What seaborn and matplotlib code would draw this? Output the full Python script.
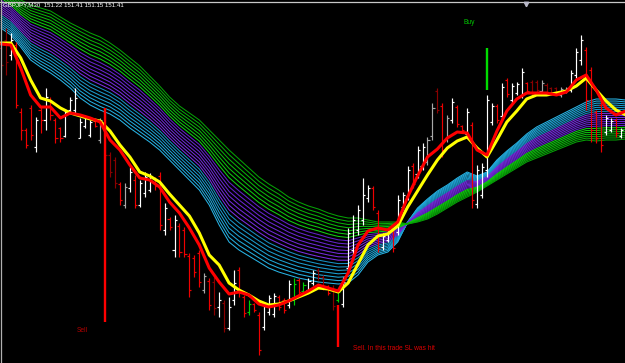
import numpy as np
import pandas as pd
import matplotlib
matplotlib.use("Agg")
import matplotlib.pyplot as plt
import seaborn as sns

# ---------------- data (prices) ----------------
bar_high = [152.55, 152.72, 152.67, 152.58, 151.92, 151.72, 151.95, 151.83, 151.93, 152.12,
            152.03, 151.82, 151.73, 151.90, 152.03, 152.12, 151.82, 151.85, 151.80, 151.80,
            151.82, 151.90, 151.48, 151.43, 151.18, 151.17, 151.33, 151.25, 151.20, 151.28,
            151.27, 151.23, 151.28, 150.97, 150.83, 150.85, 150.77, 150.73, 150.47, 150.45,
            150.50, 150.27, 150.22, 150.23, 150.08, 150.00, 150.03, 150.30, 150.33, 150.05,
            150.00, 149.97, 149.88, 149.97, 150.05, 150.07, 150.05, 150.02, 150.20, 150.22,
            150.22, 150.18, 150.22, 150.30, 150.32, 150.25, 150.15, 150.15, 150.12, 150.23,
            150.72, 150.85, 150.95, 151.22, 151.15, 151.14, 150.90, 150.67, 150.72, 150.72,
            151.05, 151.08, 151.34, 151.37, 151.54, 151.57, 151.63, 151.97, 152.12, 151.97,
            151.85, 152.02, 151.95, 151.75, 151.92, 151.78, 151.35, 151.37, 152.05, 151.97,
            151.96, 152.17, 152.22, 152.17, 152.18, 152.32, 152.18, 152.20, 152.20, 152.20,
            152.17, 152.13, 152.13, 152.13, 152.13, 152.30, 152.52, 152.65, 152.53, 152.33,
            151.90, 152.00, 151.85, 151.82, 151.82, 151.72]
bar_low = [152.30, 152.25, 152.40, 151.92, 151.60, 151.52, 151.60, 151.48, 151.67, 151.70,
           151.80, 151.57, 151.58, 151.63, 151.87, 151.87, 151.62, 151.72, 151.63, 151.73,
           151.57, 151.40, 151.23, 151.12, 150.95, 150.92, 151.08, 150.92, 150.93, 151.03,
           151.08, 151.10, 150.70, 150.65, 150.70, 150.43, 150.43, 150.43, 150.03, 150.23,
           150.13, 150.07, 149.90, 149.85, 149.83, 149.68, 149.70, 149.95, 150.03, 149.83,
           149.85, 149.88, 149.45, 149.70, 149.85, 149.83, 149.90, 149.87, 149.92, 149.95,
           150.05, 150.07, 150.08, 150.15, 150.20, 150.10, 150.05, 149.90, 149.98, 149.93,
           150.27, 150.43, 150.65, 150.75, 150.98, 150.90, 150.48, 150.50, 150.58, 150.48,
           150.65, 150.90, 151.00, 151.12, 151.22, 151.30, 151.35, 151.60, 151.87, 151.43,
           151.58, 151.77, 151.73, 151.69, 151.62, 150.92, 150.92, 151.02, 151.23, 151.75,
           151.77, 151.80, 152.03, 151.97, 152.05, 152.02, 152.07, 152.03, 152.08, 152.07,
           152.05, 152.05, 152.05, 152.03, 152.07, 152.08, 152.22, 152.35, 151.90, 151.58,
           151.57, 151.48, 151.65, 151.68, 151.63, 151.62]
bar_open = [152.52, 152.60, 152.45, 152.55, 151.88, 151.70, 151.92, 151.53, 151.90, 151.80,
            152.00, 151.80, 151.72, 151.64, 151.90, 151.90, 151.62, 151.74, 151.65, 151.79,
            151.60, 151.88, 151.45, 151.40, 151.16, 150.95, 151.12, 151.20, 150.95, 151.07,
            151.10, 151.22, 151.24, 150.70, 150.81, 150.50, 150.74, 150.70, 150.44, 150.42,
            150.47, 150.10, 150.19, 150.18, 149.93, 149.97, 149.72, 150.00, 150.30, 150.03,
            149.88, 149.96, 149.85, 149.73, 149.88, 149.86, 150.03, 150.00, 149.95, 150.00,
            150.20, 150.09, 150.10, 150.17, 150.30, 150.23, 150.14, 150.12, 150.00, 149.96,
            150.32, 150.50, 150.70, 150.80, 151.02, 151.12, 150.87, 150.53, 150.60, 150.69,
            150.68, 150.93, 151.04, 151.34, 151.26, 151.34, 151.38, 151.64, 152.09, 151.94,
            151.61, 151.80, 151.93, 151.74, 151.66, 151.75, 150.96, 151.05, 151.30, 151.78,
            151.94, 151.84, 152.20, 152.00, 152.07, 152.05, 152.17, 152.18, 152.18, 152.09,
            152.15, 152.12, 152.12, 152.05, 152.08, 152.10, 152.25, 152.40, 152.50, 152.30,
            151.88, 151.95, 151.68, 151.70, 151.80, 151.64]
bar_close = [152.35, 152.38, 152.60, 151.95, 151.70, 151.55, 151.65, 151.80, 151.80, 152.03,
             151.85, 151.62, 151.62, 151.88, 152.00, 152.02, 151.78, 151.82, 151.78, 151.74,
             151.80, 151.45, 151.28, 151.17, 151.00, 151.13, 151.28, 150.95, 151.17, 151.23,
             151.24, 151.14, 150.75, 150.92, 150.73, 150.80, 150.48, 150.46, 150.10, 150.28,
             150.18, 150.24, 149.95, 149.92, 150.00, 149.72, 149.93, 150.17, 150.08, 149.87,
             149.96, 149.90, 149.50, 149.94, 150.02, 150.04, 149.93, 149.90, 150.16, 150.16,
             150.08, 150.15, 150.19, 150.27, 150.23, 150.13, 150.07, 149.94, 150.08, 150.18,
             150.67, 150.80, 150.90, 151.05, 151.12, 150.93, 150.52, 150.64, 150.69, 150.52,
             151.00, 151.05, 151.30, 151.16, 151.50, 151.53, 151.60, 151.92, 151.90, 151.50,
             151.82, 151.98, 151.76, 151.70, 151.88, 151.00, 151.30, 151.33, 152.00, 151.94,
             151.80, 152.13, 152.06, 152.14, 152.16, 152.28, 152.09, 152.06, 152.10, 152.17,
             152.07, 152.07, 152.06, 152.11, 152.12, 152.27, 152.48, 152.60, 152.00, 151.70,
             151.62, 151.55, 151.82, 151.79, 151.67, 151.70]
# bar colour class: w white, g grey, r red, d dark red, G green
bar_kind = list("ddwrrrrwrw" "rrrwwwwwwr" "gdddrgwrww" "wrrwrwrrrr" "rgrdwdwwrr"
                "GrrwwwrrwG" "rGwwddrdGw" "wwwwwrrwwr" "wwwrwwggdr" "gwrrwrwwww"
                "rwrwwwrddg" "dddggwwwrr" "rrwwrw")

# moving averages sampled every second bar
ma_red = [152.56, 152.55, 152.32, 152.05, 151.93, 151.93, 151.82, 151.87, 151.85, 151.82,
          151.78, 151.60, 151.50, 151.35, 151.22, 151.20, 151.13, 150.98, 150.87, 150.72,
          150.55, 150.32, 150.18, 150.06, 150.08, 150.05, 149.96, 149.93, 149.95, 149.99,
          150.04, 150.09, 150.15, 150.12, 150.09, 150.27, 150.55, 150.69, 150.72, 150.70,
          150.78, 151.03, 151.24, 151.43, 151.51, 151.62, 151.68, 151.67, 151.50, 151.45,
          151.69, 151.89, 152.01, 152.07, 152.07, 152.07, 152.05, 152.08, 152.20, 152.25,
          152.10, 151.92, 151.85, 151.89]
ma_yellow = [152.57, 152.57, 152.42, 152.20, 152.02, 151.99, 151.92, 151.87, 151.84, 151.81,
             151.79, 151.69, 151.55, 151.43, 151.28, 151.24, 151.18, 151.06, 150.95, 150.84,
             150.67, 150.45, 150.35, 150.17, 150.10, 150.05, 149.99, 149.95, 149.96, 149.99,
             150.03, 150.07, 150.12, 150.11, 150.08, 150.17, 150.36, 150.55, 150.64, 150.66,
             150.74, 150.93, 151.09, 151.25, 151.40, 151.52, 151.59, 151.63, 151.52, 151.43,
             151.60, 151.78, 151.89, 152.01, 152.05, 152.05, 152.07, 152.09, 152.14, 152.22,
             152.10, 151.99, 151.90, 151.85]
# outer lines of the multi-MA ribbon: fastest (blue side) and slowest (green side)
ribbon_fast = [152.72, 152.65, 152.53, 152.40, 152.33, 152.27, 152.20, 152.12, 152.02, 151.95,
               151.90, 151.86, 151.80, 151.72, 151.65, 151.58, 151.50, 151.40, 151.30, 151.20,
               151.10, 150.95, 150.75, 150.58, 150.50, 150.44, 150.38, 150.32, 150.28, 150.25,
               150.22, 150.20, 150.18, 150.17, 150.16, 150.17, 150.25, 150.38, 150.45, 150.48,
               150.58, 150.78, 150.92, 151.01, 151.09, 151.15, 151.22, 151.28, 151.24, 151.28,
               151.40, 151.49, 151.57, 151.66, 151.73, 151.78, 151.83, 151.88, 151.93, 151.98,
               152.01, 152.01, 152.01, 152.00]
ribbon_slow = [153.15, 153.08, 153.00, 152.95, 152.92, 152.89, 152.83, 152.77, 152.72, 152.67,
               152.63, 152.57, 152.50, 152.42, 152.34, 152.24, 152.14, 152.03, 151.94, 151.87,
               151.80, 151.70, 151.60, 151.50, 151.41, 151.32, 151.23, 151.16, 151.10, 151.03,
               150.98, 150.94, 150.91, 150.87, 150.84, 150.82, 150.82, 150.80, 150.78, 150.78,
               150.78, 150.76, 150.78, 150.81, 150.86, 150.92, 150.98, 151.03, 151.08, 151.14,
               151.20, 151.26, 151.32, 151.38, 151.42, 151.46, 151.50, 151.54, 151.58, 151.60,
               151.59, 151.60, 151.60, 151.61]

# signal markers
signal_bar = [21, 68, 98]
signal_top = [151.92, 149.95, 152.52]
signal_bottom = [149.78, 149.53, 152.10]
signal_kind = ["sell", "sell", "buy"]

header_text = "GBPJPY,M30  151.22 151.41 151.15 151.41"
label_buy = "Buy"
label_sell = "Sell"
label_sell_sl = "Sell. In this trade SL was hit"

# ---------------- styling ----------------
sns.set_theme(style="dark", rc={"axes.facecolor": "black", "figure.facecolor": "black"})
plt.rcParams["font.family"] = ["Liberation Sans", "DejaVu Sans"]

fig = plt.figure(figsize=(6.25, 3.63), dpi=100)
ax = fig.add_axes([0, 0, 1, 1])
ax.set_facecolor("black")

# ribbon lines
n_lines = 21
cyan_cols = ["#28b4e6", "#24aee0", "#20a8da", "#1ea2d4", "#1c9cce", "#1a96c8", "#1890c2"]
purple_cols = ["#7a2ee0", "#762cdc", "#722ad8", "#6e28d4", "#6a26d0", "#6624cc", "#6222c8"]
green_cols = ["#12d012", "#10c810", "#0ec00e", "#0cb80c", "#0ab00a", "#08a808", "#06a006"]
line_cols = cyan_cols + purple_cols + green_cols
fast = np.array(ribbon_fast)
slow = np.array(ribbon_slow)
ma_pos = np.arange(len(ribbon_fast)) * 2
rows = []
for k in range(n_lines):
    frac = k / (n_lines - 1)
    vals = fast + (slow - fast) * frac
    for p, v in zip(ma_pos, vals):
        rows.append((p, v, f"L{k:02d}"))
rib = pd.DataFrame(rows, columns=["pos", "price", "line"])
pal = {f"L{k:02d}": line_cols[k] for k in range(n_lines)}
sns.lineplot(data=rib, x="pos", y="price", hue="line", palette=pal, legend=False,
             linewidth=0.75, estimator=None, sort=False, ax=ax, zorder=1)

# price bars
kind_col = {"w": "#ffffff", "g": "#a8a8a8", "r": "#ee0000", "d": "#8a0000", "G": "#00d000"}
x = np.arange(len(bar_high))
cols = [kind_col[k] for k in bar_kind]
ax.vlines(x, bar_low, bar_high, colors=cols, linewidth=0.85, zorder=2)
ax.hlines(bar_open, x - 0.42, x, colors=cols, linewidth=0.85, zorder=2)
ax.hlines(bar_close, x, x + 0.42, colors=cols, linewidth=0.85, zorder=2)

# red / yellow averages
ma_df = pd.DataFrame({"pos": np.arange(len(ma_red)) * 2, "red": ma_red, "yellow": ma_yellow})
sns.lineplot(data=ma_df, x="pos", y="yellow", color="#ffff00", linewidth=2.2, ax=ax, zorder=3)
sns.lineplot(data=ma_df, x="pos", y="red", color="#ff0000", linewidth=2.2, ax=ax, zorder=3)

# signals
for b, t, bt, kd in zip(signal_bar, signal_top, signal_bottom, signal_kind):
    ax.vlines(b, bt, t, colors="#ff0000" if kd == "sell" else "#00dd00",
              linewidth=1.7, zorder=4)

ax.set_xlim(-0.18, 125.82)
ax.set_ylim(149.37, 153.00)
ax.set_xlabel("")
ax.set_ylabel("")
ax.set_xticks([])
ax.set_yticks([])
for s in ax.spines.values():
    s.set_visible(False)

# window frame (top and left edge) and chart-shift marker
ax.plot([0, 1], [1 - 1.5 / 363, 1 - 1.5 / 363], transform=ax.transAxes,
        color="#c8c8c8", linewidth=0.9, zorder=5, clip_on=False)
ax.plot([0.6 / 625, 0.6 / 625], [0, 1], transform=ax.transAxes,
        color="#b0b0b0", linewidth=0.9, zorder=5, clip_on=False)
ax.plot([526 / 625], [1 - 3.5 / 363], transform=ax.transAxes, marker="v",
        markersize=3.2, color="#b8b8c8", zorder=6, clip_on=False)

# texts
ax.text(3 / 625, 1 - 2.5 / 363, header_text, transform=ax.transAxes, ha="left", va="top",
        color="white", fontsize=4.4, zorder=7)
ax.text(464 / 625, 1 - 19 / 363, label_buy, transform=ax.transAxes, ha="left", va="top",
        color="#00c800", fontsize=4.8, zorder=7)
ax.text(77 / 625, 1 - 327 / 363, label_sell, transform=ax.transAxes, ha="left", va="top",
        color="#b40000", fontsize=4.8, zorder=7)
ax.text(353 / 625, 1 - 344.5 / 363, label_sell_sl, transform=ax.transAxes, ha="left", va="top",
        color="#dc0000", fontsize=4.8, zorder=7)

fig.savefig("out.png", dpi=100, facecolor="black")
